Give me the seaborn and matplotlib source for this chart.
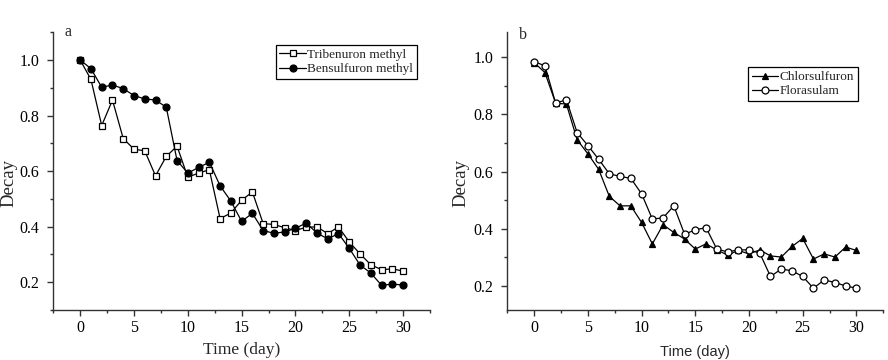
import numpy as np
import matplotlib
matplotlib.use("Agg")
import matplotlib.pyplot as plt
import seaborn as sns
from matplotlib.ticker import MultipleLocator

# ---------------- data ----------------
days = list(range(31))

tribenuron = [1.00, 0.93, 0.764, 0.856, 0.717, 0.679, 0.673, 0.583, 0.653, 0.690,
              0.578, 0.593, 0.605, 0.429, 0.449, 0.495, 0.525, 0.411, 0.408, 0.396,
              0.386, 0.398, 0.399, 0.375, 0.399, 0.345, 0.302, 0.263, 0.245, 0.248,
              0.240]
bensulfuron = [1.00, 0.969, 0.902, 0.910, 0.897, 0.872, 0.860, 0.856, 0.830, 0.638,
               0.593, 0.613, 0.632, 0.547, 0.492, 0.419, 0.448, 0.386, 0.376, 0.381,
               0.394, 0.413, 0.377, 0.356, 0.375, 0.322, 0.262, 0.233, 0.189, 0.193,
               0.190]
chlorsulfuron = [0.981, 0.946, 0.839, 0.836, 0.711, 0.662, 0.608, 0.513, 0.480, 0.480,
                 0.422, 0.347, 0.414, 0.387, 0.364, 0.329, 0.347, 0.326, 0.308, 0.324,
                 0.312, 0.326, 0.305, 0.301, 0.338, 0.366, 0.294, 0.312, 0.301, 0.336,
                 0.324]
florasulam = [0.984, 0.970, 0.839, 0.851, 0.736, 0.691, 0.643, 0.592, 0.583, 0.576,
              0.522, 0.434, 0.438, 0.480, 0.381, 0.396, 0.404, 0.329, 0.319, 0.326,
              0.326, 0.315, 0.233, 0.259, 0.253, 0.233, 0.192, 0.221, 0.212, 0.200,
              0.192]

y_ticks = [0.2, 0.4, 0.6, 0.8, 1.0]
x_ticks = [0, 5, 10, 15, 20, 25, 30]

# ---------------- style ----------------
sns.set_style("ticks")
plt.rcParams['font.family'] = ['Liberation Serif', 'DejaVu Serif']
plt.rcParams['axes.edgecolor'] = '#333333'
plt.rcParams['axes.linewidth'] = 1.0

fig = plt.figure(figsize=(8.88, 3.6), dpi=100)
ax_a = fig.add_axes([0.060, 0.139, 0.4242, 0.7714])
ax_b = fig.add_axes([0.5713, 0.139, 0.4234, 0.7714])

line_kw = dict(color='black', linewidth=0.9, markersize=5, markeredgewidth=0.9,
               markeredgecolor='black')

# panel a
sns.lineplot(x=days, y=tribenuron, ax=ax_a, marker='s', markerfacecolor='white',
             label='Tribenuron methyl', **line_kw)
sns.lineplot(x=days, y=bensulfuron, ax=ax_a, marker='o', markerfacecolor='black',
             label='Bensulfuron methyl', **line_kw)

# panel b
sns.lineplot(x=days, y=chlorsulfuron, ax=ax_b, marker='^', markerfacecolor='black',
             label='Chlorsulfuron', **line_kw)
sns.lineplot(x=days, y=florasulam, ax=ax_b, marker='o', markerfacecolor='white',
             label='Florasulam', **line_kw)

for ax, ylim, lx in [(ax_a, (0.10, 1.10), -0.094), (ax_b, (0.116, 1.087), -0.102)]:
    ax.set_xlim(-2.5, 32.5)
    ax.set_ylim(*ylim)
    ax.set_xticks(x_ticks)
    ax.set_yticks(y_ticks)
    ax.set_yticklabels([f"{v:.1f}" for v in y_ticks])
    ax.xaxis.set_minor_locator(MultipleLocator(2.5))
    ax.yaxis.set_minor_locator(MultipleLocator(0.1))
    ax.tick_params(which='major', length=4, width=1, labelsize=11.5, colors='#333333',
                   labelcolor='black')
    ax.tick_params(which='minor', length=2.5, width=1, colors='#333333')
    ax.tick_params(axis='y', pad=6)
    ax.set_ylabel("Decay", fontsize=13.5)
    ax.yaxis.set_label_coords(lx, 0.457)
    sns.despine(ax=ax)
    ax.get_legend().remove()

ax_a.set_xlabel("Time (day)", fontsize=12.5, labelpad=4)
ax_b.set_xlabel("Time (day)", fontsize=10.5, labelpad=6,
                family=['Liberation Sans', 'DejaVu Sans'])

leg_a = ax_a.legend(loc='upper left', bbox_to_anchor=(0.59, 0.955), fontsize=9.5,
                    frameon=True, fancybox=False, edgecolor='black', framealpha=1,
                    handlelength=2.0, handletextpad=0.1, borderpad=0.3,
                    labelspacing=0.15, borderaxespad=0)
leg_a.get_frame().set_linewidth(0.9)
leg_b = ax_b.legend(loc='upper left', bbox_to_anchor=(0.64, 0.875), fontsize=9.5,
                    frameon=True, fancybox=False, edgecolor='black', framealpha=1,
                    handlelength=2.0, handletextpad=0.1, borderpad=0.3,
                    labelspacing=0.15, borderaxespad=0)
leg_b.get_frame().set_linewidth(0.9)

ax_a.text(0.03, 1.0, "a", transform=ax_a.transAxes, fontsize=11.5, va='center', ha='left',
          bbox=dict(facecolor='white', edgecolor='none', pad=2))
ax_b.text(0.03, 0.99, "b", transform=ax_b.transAxes, fontsize=11.5, va='center', ha='left',
          bbox=dict(facecolor='white', edgecolor='none', pad=2))

fig.savefig("out.png", dpi=100)
